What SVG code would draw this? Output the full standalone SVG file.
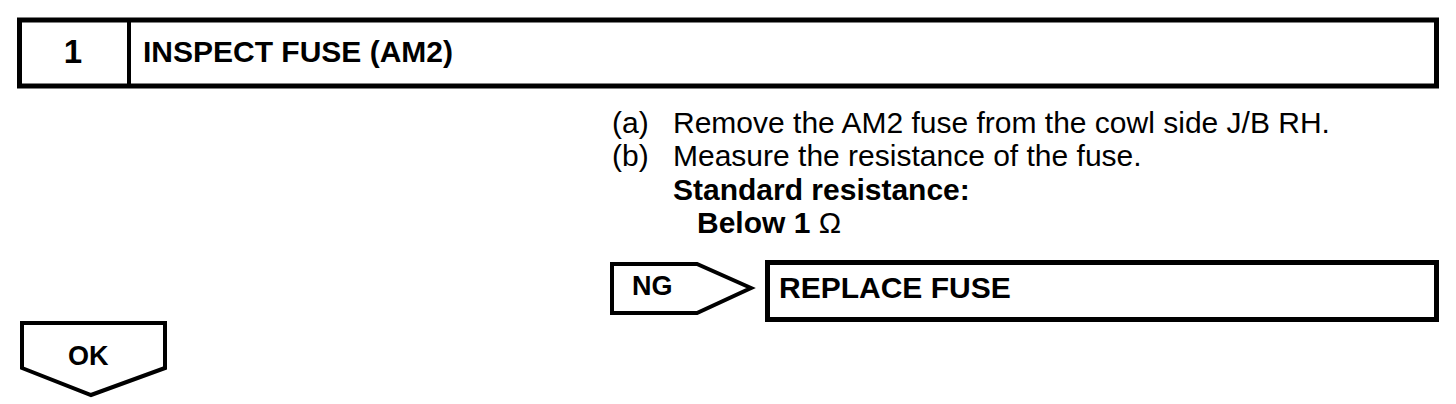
<svg xmlns="http://www.w3.org/2000/svg" width="1456" height="404" viewBox="0 0 1456 404">
<style>
.box{fill:#fff;stroke:#000;stroke-width:5}
.tag{fill:#fff;stroke:#000;stroke-width:4;stroke-linejoin:miter}
.b{font-family:"Liberation Sans",Arial,sans-serif;font-weight:bold;fill:#000}
.r{font-family:"Liberation Sans",Arial,sans-serif;fill:#000}
</style>
<rect width="1456" height="404" fill="#fff"/>
<g id="header">
<rect class="box" x="19.5" y="20" width="1417" height="66"/>
<line x1="129" y1="20" x2="129" y2="86" stroke="#000" stroke-width="4"/>
<text class="b" x="73" y="63" font-size="33" text-anchor="middle">1</text>
<text class="b" x="143" y="62" font-size="30">INSPECT FUSE (AM2)</text>
</g>
<g id="instructions">
<text class="r" x="612" y="133" font-size="30">(a)</text>
<text class="r" x="673" y="133" font-size="30">Remove the AM2 fuse from the cowl side J/B RH.</text>
<text class="r" x="612" y="166" font-size="30">(b)</text>
<text class="r" x="673" y="166" font-size="30">Measure the resistance of the fuse.</text>
<text class="b" x="673" y="200" font-size="30">Standard resistance:</text>
<text class="b" x="697" y="233" font-size="30">Below 1 <tspan font-weight="normal">Ω</tspan></text>
</g>
<g id="ng">
<polygon class="tag" points="612,264 697,264 751,288 697,313 612,313"/>
<text class="b" x="632" y="295" font-size="27">NG</text>
</g>
<g id="replace">
<rect class="box" x="767.5" y="262.5" width="669" height="57"/>
<text class="b" x="779" y="298" font-size="30">REPLACE FUSE</text>
</g>
<g id="ok">
<polygon class="tag" points="22,323 165,323 165,368 91,395 22,368"/>
<text class="b" x="68" y="365" font-size="27">OK</text>
</g>
<g id="connectors"></g>
</svg>
